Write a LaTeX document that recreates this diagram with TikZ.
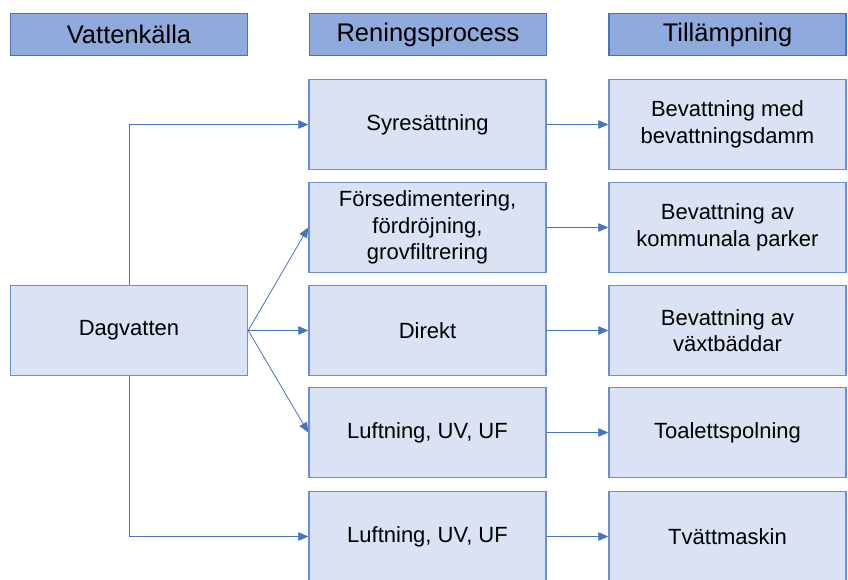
\documentclass[tikz,border=0pt]{standalone}
\usepackage{fontspec}
\setmainfont{Liberation Sans}
\usetikzlibrary{positioning, arrows.meta}

\definecolor{hdrfill}{HTML}{8FAADC}
\definecolor{hdrline}{HTML}{4472C4}
\definecolor{boxfill}{HTML}{DAE3F3}
\definecolor{boxline}{HTML}{6A8ED6}
\definecolor{arrline}{HTML}{4472C4}

\begin{document}
\begin{tikzpicture}[x=1pt, y=-1pt,
    header/.style={draw=hdrline, line width=1.4pt, fill=hdrfill, minimum width=237pt, minimum height=42pt, inner sep=0pt, font=\fontsize{25.5}{28}\selectfont},
    procbox/.style={draw=boxline, line width=1.4pt, fill=boxfill, minimum width=237pt, minimum height=90pt, inner sep=0pt, align=center, font=\fontsize{22}{26.5}\selectfont},
    flow/.style={draw=arrline, line width=0.8pt, -{Triangle[length=10pt,width=8.5pt]}}]
        \clip (0,0) rectangle (848,580);

        % Column headers
        \node[header] (hsrc) at (129,34.5) {Vattenkälla};
        \node[header] (hproc) at (428,34.5) {Reningsprocess};
        \node[header] (huse) at (727.5,34.5) {Tillämpning};

        % Source
        \node[procbox] (dag) at (129,330.5) {Dagvatten};

        % Treatment steps
        \node[procbox] (p1) at (427.5,124.5) {Syresättning};
        \node[procbox] (p2) at (427.5,227.5) {Försedimentering,\\fördröjning,\\grovfiltrering};
        \node[procbox] (p3) at (427.5,330.5) {Direkt};
        \node[procbox] (p4) at (427.5,432.5) {Luftning, UV, UF};
        \node[procbox] (p5) at (427.5,536.5) {Luftning, UV, UF};

        % Applications
        \node[procbox] (u1) at (727.5,124.5) {Bevattning med\\bevattningsdamm};
        \node[procbox] (u2) at (727.5,227.5) {Bevattning av\\kommunala parker};
        \node[procbox] (u3) at (727.5,330.5) {Bevattning av\\växtbäddar};
        \node[procbox] (u4) at (727.5,432.5) {Toalettspolning};
        \node[procbox] (u5) at (727.5,536.5) {Tvättmaskin};

        % Source to treatment
        \draw[flow] (dag.north) |- (p1.west);
        \draw[flow] (dag.east) -- (p2.west);
        \draw[flow] (dag.east) -- (p3.west);
        \draw[flow] (dag.east) -- (p4.west);
        \draw[flow] (dag.south) |- (p5.west);

        % Treatment to application
        \foreach \i in {1,...,5}
          \draw[flow] (p\i.east) -- (u\i.west);
      \end{tikzpicture}
\end{document}
